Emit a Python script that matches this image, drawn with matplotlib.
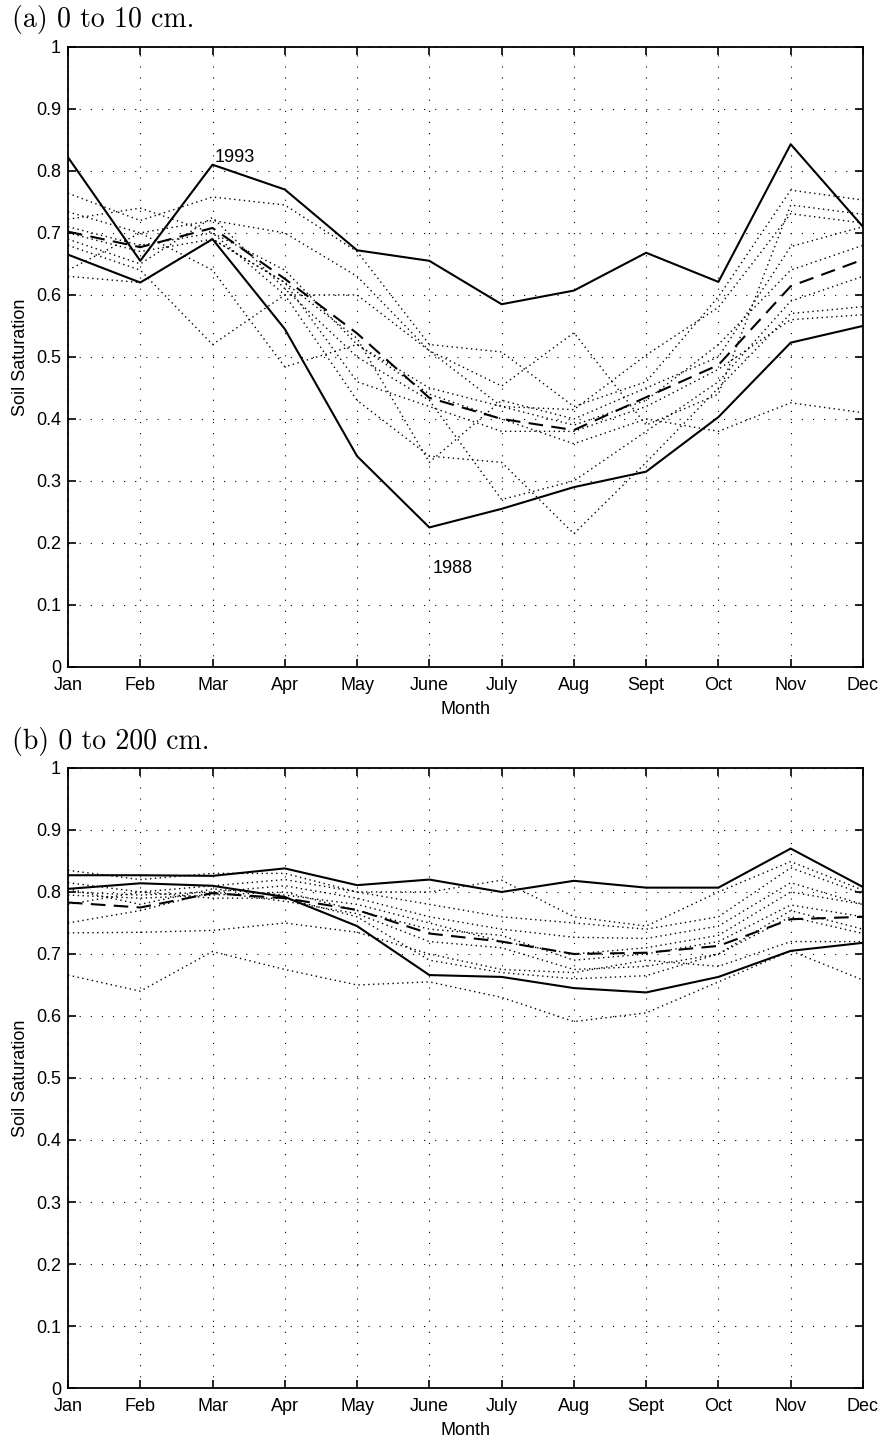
import numpy as np
import matplotlib as mpl
import matplotlib.pyplot as plt

mpl.rcParams['font.family'] = ['Liberation Sans', 'DejaVu Sans']

months = ["Jan", "Feb", "Mar", "Apr", "May", "June", "July", "Aug", "Sept", "Oct", "Nov", "Dec"]
yticks = [0, 0.1, 0.2, 0.3, 0.4, 0.5, 0.6, 0.7, 0.8, 0.9, 1]
yticklabels = ["0", "0.1", "0.2", "0.3", "0.4", "0.5", "0.6", "0.7", "0.8", "0.9", "1"]

#######
# (a) 0 to 10 cm

top_1993 = [0.822, 0.655, 0.810, 0.770, 0.672, 0.655, 0.585, 0.607, 0.668, 0.621, 0.843, 0.710]
top_1988 = [0.665, 0.620, 0.690, 0.545, 0.340, 0.225, 0.255, 0.290, 0.315, 0.403, 0.523, 0.550]
top_mean = [0.702, 0.677, 0.708, 0.626, 0.538, 0.434, 0.400, 0.382, 0.435, 0.487, 0.614, 0.657]
top_years = [
    [0.764, 0.720, 0.758, 0.745, 0.670, 0.520, 0.508, 0.420, 0.460, 0.597, 0.769, 0.753],
    [0.734, 0.700, 0.720, 0.700, 0.630, 0.510, 0.453, 0.539, 0.390, 0.440, 0.745, 0.730],
    [0.722, 0.740, 0.700, 0.640, 0.520, 0.450, 0.420, 0.415, 0.503, 0.580, 0.731, 0.716],
    [0.700, 0.670, 0.690, 0.620, 0.530, 0.330, 0.430, 0.400, 0.450, 0.500, 0.678, 0.710],
    [0.690, 0.650, 0.725, 0.610, 0.500, 0.430, 0.270, 0.300, 0.380, 0.460, 0.590, 0.630],
    [0.680, 0.640, 0.520, 0.600, 0.430, 0.340, 0.330, 0.215, 0.330, 0.450, 0.570, 0.581],
    [0.640, 0.700, 0.640, 0.484, 0.520, 0.440, 0.400, 0.360, 0.400, 0.380, 0.426, 0.410],
    [0.630, 0.620, 0.690, 0.620, 0.460, 0.420, 0.380, 0.380, 0.420, 0.480, 0.560, 0.568],
    [0.710, 0.680, 0.700, 0.600, 0.600, 0.510, 0.420, 0.390, 0.430, 0.520, 0.640, 0.680],
]

#######
# (b) 0 to 200 cm

bot_upper = [0.827, 0.827, 0.826, 0.838, 0.811, 0.820, 0.800, 0.818, 0.807, 0.807, 0.870, 0.808]
bot_lower = [0.805, 0.814, 0.810, 0.792, 0.745, 0.666, 0.663, 0.645, 0.638, 0.663, 0.705, 0.718]
bot_mean = [0.783, 0.775, 0.798, 0.790, 0.771, 0.733, 0.720, 0.700, 0.702, 0.713, 0.756, 0.760]
bot_years = [
    [0.835, 0.820, 0.830, 0.830, 0.800, 0.800, 0.819, 0.760, 0.745, 0.800, 0.849, 0.803],
    [0.815, 0.800, 0.810, 0.820, 0.800, 0.780, 0.760, 0.750, 0.740, 0.760, 0.839, 0.797],
    [0.800, 0.795, 0.800, 0.810, 0.790, 0.760, 0.740, 0.727, 0.725, 0.745, 0.815, 0.780],
    [0.795, 0.790, 0.795, 0.800, 0.770, 0.740, 0.730, 0.690, 0.700, 0.720, 0.779, 0.760],
    [0.750, 0.770, 0.800, 0.785, 0.765, 0.720, 0.710, 0.675, 0.680, 0.700, 0.760, 0.733],
    [0.734, 0.735, 0.738, 0.750, 0.735, 0.700, 0.675, 0.670, 0.690, 0.680, 0.720, 0.720],
    [0.666, 0.640, 0.704, 0.675, 0.650, 0.655, 0.630, 0.591, 0.605, 0.655, 0.705, 0.658],
    [0.780, 0.800, 0.790, 0.790, 0.760, 0.690, 0.670, 0.660, 0.665, 0.700, 0.770, 0.740],
    [0.805, 0.780, 0.805, 0.795, 0.780, 0.750, 0.720, 0.700, 0.710, 0.730, 0.800, 0.780],
]

x = np.arange(len(months))

plt.close('all')

fig = plt.figure(figsize=(8.84, 14.43), dpi=100)
axT = fig.add_axes([0.0769, 0.5378, 0.8993, 0.4297])
axB = fig.add_axes([0.0769, 0.0381, 0.8993, 0.4297])

grid_ls = (0, (1, 9))
dot_ls = (0, (1, 2.5))
dash_ls = (0, (7, 4))


def draw_panel(ax, years, upper, lower, mean):
    for yv in years:
        ax.plot(x, yv, color='black', lw=1.0, linestyle=dot_ls)
    ax.plot(x, upper, color='black', lw=1.5)
    ax.plot(x, lower, color='black', lw=1.5)
    ax.plot(x, mean, color='black', lw=1.5, linestyle=dash_ls)

    ax.set_xlim(0, 11)
    ax.set_ylim(0, 1)
    ax.set_xticks(x)
    ax.set_xticklabels(months, fontsize=13)
    ax.set_yticks(yticks)
    ax.set_yticklabels(yticklabels, fontsize=13)
    ax.grid(True, color='black', lw=0.8, linestyle=grid_ls)
    ax.tick_params(direction='in', top=True, right=True, length=6, width=1.2)
    ax.tick_params(axis='x', pad=7)
    ax.tick_params(axis='y', pad=5)
    for s in ax.spines.values():
        s.set_linewidth(1.3)
    ax.set_xlabel("Month", fontsize=13, labelpad=5)
    ax.set_ylabel("Soil Saturation", fontsize=13, labelpad=5)


draw_panel(axT, top_years, top_1993, top_1988, top_mean)
draw_panel(axB, bot_years, bot_upper, bot_lower, bot_mean)

axT.text(2.03, 0.822, "1993", fontsize=13, va='center', ha='left')
axT.text(5.05, 0.158, "1988", fontsize=13, va='center', ha='left')

fig.text(12 / 884, 1 - 20 / 1443, "(a) 0 to 10 cm.", family='cmr10', fontsize=20, va='center', ha='left')
fig.text(12 / 884, 1 - 742 / 1443, "(b) 0 to 200 cm.", family='cmr10', fontsize=20, va='center', ha='left')

plt.savefig("out.png", format='png', dpi=100)
plt.close('all')
